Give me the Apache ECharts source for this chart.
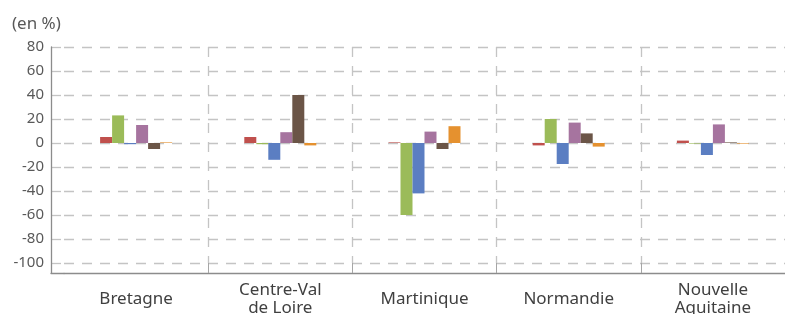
<!DOCTYPE html>
<html>
<head>
<meta charset="utf-8">
<script src="https://cdn.jsdelivr.net/npm/echarts@6/dist/echarts.min.js"></script>
<style>
  html, body { margin: 0; padding: 0; background: #fff; }
  #chart { width: 785px; height: 314px; }
</style>
</head>
<body>
<div id="chart"></div>
<script>
// régions
const regions = ['Bretagne', 'Centre-Val\nde Loire', 'Martinique', 'Normandie', 'Nouvelle\nAquitaine'];

// six séries, une valeur par région (en %)
const serieRouge = [5, 5, 0.5, -2, 2];
const serieVerte = [23, -1, -60, 20, -0.5];
const serieBleue = [-1, -14, -42, -17.5, -10];
const serieViolette = [15, 9, 9.5, 17, 15.5];
const serieBrune = [-5, 40, -5, 8, 0.5];
const serieOrange = [0.5, -2, 14, -3, -0.5];

const yTicks = [-100, -80, -60, -40, -20, 0, 20, 40, 60, 80];

const couleurs = ['#c0504d', '#9bbb59', '#5b7ec2', '#a6749f', '#6b5547', '#e5912f'];
const series = [serieRouge, serieVerte, serieBleue, serieViolette, serieBrune, serieOrange];

const police = '"Noto Sans", "DejaVu Sans", sans-serif';
const grille = { color: '#c4c4c4', width: 1.3, type: [10, 8] };
const axe = { color: '#8c8c8c', width: 1.3 };
const cache = { show: false };

const chart = echarts.init(document.getElementById('chart'));
chart.setOption({
  animation: false,
  backgroundColor: '#fff',
  title: {
    text: '(en %)',
    left: 7,
    top: 11,
    textStyle: { fontFamily: police, fontSize: 17, fontWeight: 'normal', color: '#595959' },
  },
  grid: [
    // zone principale des barres
    { left: 64, right: 0, top: 47, bottom: 51, outerBoundsMode: 'none' },
    // bande entre l'axe vertical et la première catégorie (graduations)
    { left: 51, width: 13, top: 47, bottom: 51, outerBoundsMode: 'none' },
    // cadre des axes, descendu jusqu'à la ligne de base
    { left: 51, width: 13, top: 47, bottom: 41, outerBoundsMode: 'none' },
  ],
  xAxis: [
    {
      type: 'category',
      gridIndex: 0,
      data: regions,
      offset: 10,
      axisLine: { show: true, onZero: false, lineStyle: axe },
      axisTick: {
        show: true,
        inside: true,
        length: 10,
        interval: (i) => i > 0,
        lineStyle: { color: '#a6a6a6' },
      },
      axisLabel: {
        interval: 0,
        margin: 26,
        verticalAlign: 'middle',
        fontFamily: police,
        fontSize: 17,
        lineHeight: 18,
        color: '#404040',
      },
      splitLine: { show: true, showMinLine: false, showMaxLine: false, lineStyle: { color: '#c4c4c4', width: 1.3, type: [10, 9] } },
    },
    { type: 'category', gridIndex: 1, data: [''], axisLine: cache, axisTick: cache, axisLabel: cache, splitLine: cache },
    {
      type: 'category',
      gridIndex: 2,
      data: [''],
      axisLine: { show: true, onZero: false, lineStyle: axe },
      axisTick: cache,
      axisLabel: cache,
      splitLine: cache,
    },
  ],
  yAxis: [
    {
      type: 'value',
      gridIndex: 0,
      min: yTicks[0],
      max: yTicks[yTicks.length - 1],
      interval: 20,
      axisLine: cache,
      axisTick: cache,
      axisLabel: cache,
      splitLine: { show: true, lineStyle: grille },
    },
    {
      type: 'value',
      gridIndex: 1,
      min: yTicks[0],
      max: yTicks[yTicks.length - 1],
      interval: 20,
      axisLine: cache,
      axisTick: cache,
      axisLabel: { margin: 7, fontFamily: police, fontSize: 15, color: '#595959' },
      splitLine: { show: true, lineStyle: grille },
    },
    {
      type: 'value',
      gridIndex: 2,
      min: 0,
      max: 1,
      axisLine: { show: true, onZero: false, lineStyle: axe },
      axisTick: cache,
      axisLabel: cache,
      splitLine: cache,
    },
  ],
  series: series.map((data, i) => ({
    type: 'bar',
    xAxisIndex: 0,
    yAxisIndex: 0,
    data: data,
    barWidth: 12,
    barGap: '0%',
    itemStyle: { color: couleurs[i] },
  })),
});
</script>
</body>
</html>
